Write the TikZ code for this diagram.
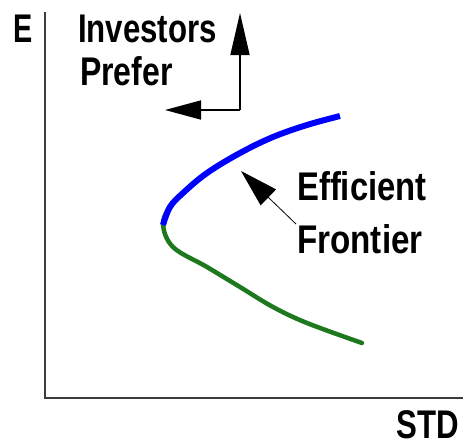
\documentclass[tikz,border=0pt]{standalone}
\usepackage{fontspec}
\usepackage{graphicx}
\setmainfont{Liberation Sans}
\usetikzlibrary{arrows.meta}
\newcommand\hsq[2]{\scalebox{#1}[1]{#2}}
\definecolor{axisgray}{RGB}{60,60,60}
\definecolor{frontblue}{RGB}{0,0,255}
\definecolor{lowgreen}{RGB}{30,120,30}
\tikzset{
  lbl/.style={anchor=base west, inner sep=0pt, font=\fontsize{40}{44}\selectfont\bfseries},
  axisline/.style={draw=axisgray, line width=2pt},
  uparrow/.style={line width=1.6pt, -{Triangle[length=42pt,width=19pt]}},
  leftarrow/.style={line width=1.6pt, -{Triangle[length=36pt,width=19pt]}},
  thinarrow/.style={line width=0.8pt, -{Triangle[length=38pt,width=22pt]}}
}
\begin{document}
\begin{tikzpicture}[x=1pt,y=-1pt]
\useasboundingbox (0,0) rectangle (469,445);
% axes
\coordinate (top) at (45,12);
\coordinate (origin) at (45,398);
\coordinate (right) at (463,398);
\draw[axisline] (top) -- (origin) -- (right);
% labels
\node[lbl] (E) at (13,42) {\hsq{0.72}{E}};
\node[lbl] (inv) at (78,42) {\hsq{0.78}{Investors}};
\node[lbl] (pref) at (80,85) {\hsq{0.80}{Prefer}};
\node[lbl] (eff) at (297,200) {\hsq{0.82}{Efficient}};
\node[lbl] (fro) at (297,253) {\hsq{0.83}{Frontier}};
\node[lbl] (std) at (396,438) {\hsq{0.78}{STD}};
% preference arrows
\coordinate (corner) at (240,110);
\coordinate (uptip) at (240,13);
\coordinate (lefttip) at (165,110);
\draw[uparrow] (corner) -- (uptip);
\draw[leftarrow] (corner) -- (lefttip);
% curve
\draw[lowgreen, line width=4.5pt, line cap=round] plot[smooth, tension=0.6] coordinates {
  (172,203) (163,223) (173,247) (207,267) (240,287) (273,307) (307,323) (362,343)};
\draw[frontblue, line width=6pt] plot[smooth, tension=0.6] coordinates {
  (163,225) (170,207) (183,193) (207,173) (240,153) (273,137) (307,125) (340,116)};
% frontier arrow
\coordinate (ftail) at (296,224);
\coordinate (ftip) at (241,171);
\draw[thinarrow] (ftail) -- (ftip);
\end{tikzpicture}
\end{document}
